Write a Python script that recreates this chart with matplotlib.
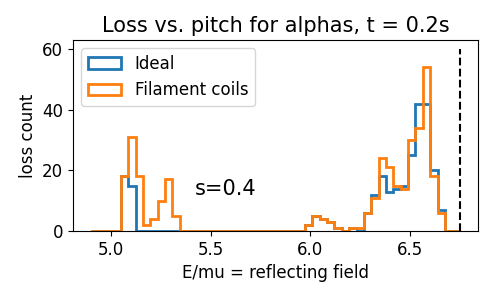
import numpy as np
import matplotlib
matplotlib.use("Agg")
import matplotlib.pyplot as plt

# Limites del histograma (50 bins entre 4.9 y 6.75)
e_min = 4.9
e_max = 6.75
n_bins = 50

# Cuentas por bin
ideal = [0, 0, 0, 0, 18, 15, 0, 0, 0, 0,
         0, 0, 0, 0, 0, 0, 0, 0, 0, 0,
         0, 0, 0, 0, 0, 0, 0, 0, 0, 2,
         5, 4, 3, 1, 0, 1, 0, 6, 12, 18,
         13, 14, 15, 25, 42, 42, 20, 7, 0, 0]
filament = [0, 0, 0, 0, 18, 31, 18, 2, 4, 10,
            17, 5, 0, 0, 0, 0, 0, 0, 0, 0,
            0, 0, 0, 0, 0, 0, 0, 0, 0, 2,
            5, 4, 3, 1, 0, 1, 1, 6, 11, 24,
            21, 15, 14, 30, 34, 54, 18, 6, 0, 0]

# Linea de referencia
x_ref = 6.75
y_ref_top = 60

bins = np.linspace(e_min, e_max, n_bins + 1)
centros = 0.5 * (bins[:-1] + bins[1:])

fig, ax = plt.subplots(figsize=(5, 3), dpi=100)
ax.hist(centros, bins=bins, weights=ideal, histtype='step', linewidth=2, label='Ideal')
ax.hist(centros, bins=bins, weights=filament, histtype='step', linewidth=2, label='Filament coils')
ax.plot([x_ref, x_ref], [0, y_ref_top], 'k--')

ax.text(5.42, 12, 's=0.4', fontsize=15)
ax.set_xlabel("E/mu = reflecting field", fontsize=12)
ax.set_ylabel("loss count", fontsize=12)
ax.set_title("Loss vs. pitch for alphas, t = 0.2s", fontsize=15)
ax.tick_params(labelsize=12)
ax.legend(loc='upper left', fontsize=12)

fig.subplots_adjust(left=0.146, right=0.956, top=0.867, bottom=0.23)
fig.savefig("out.png")
